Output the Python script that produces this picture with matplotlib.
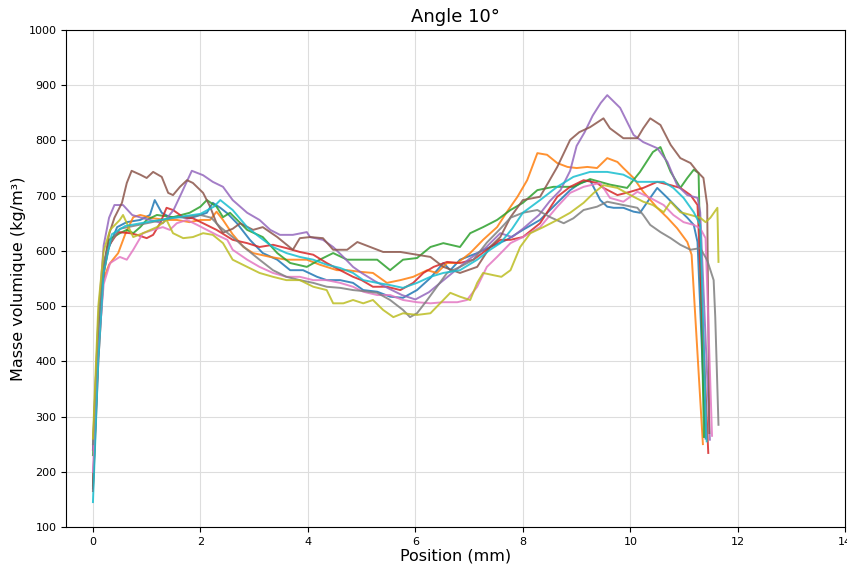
import matplotlib
matplotlib.use("Agg")
import matplotlib.pyplot as plt

# density profiles, angle 10 deg
pos_c0 = [0, 0.1, 0.2, 0.28, 0.45, 0.63, 0.88, 1.06, 1.15, 1.28, 1.43, 1.62, 1.8, 2.0, 2.12, 2.23, 2.37, 2.5, 2.68, 2.92, 3.16, 3.43, 3.67, 3.91, 4.17, 4.35, 4.6, 4.84, 5.03, 5.29, 5.53, 5.77, 6.03, 6.28, 6.52, 6.65, 6.83, 7.15, 7.39, 7.7, 8.0, 8.32, 8.64, 8.88, 9.07, 9.25, 9.44, 9.57, 9.69, 9.87, 10.06, 10.18, 10.37, 10.5, 10.69, 10.87, 11.06, 11.18, 11.25, 11.4]
dens_c0 = [170, 420, 560, 602, 643, 652, 656, 665, 692, 669, 661, 661, 659, 665, 669, 687, 678, 668, 650, 620, 596, 584, 565, 565, 553, 547, 547, 542, 529, 526, 517, 515, 529, 551, 578, 565, 584, 596, 607, 620, 638, 656, 687, 710, 723, 728, 692, 680, 678, 678, 671, 669, 696, 714, 696, 678, 660, 647, 616, 260]

pos_c1 = [0, 0.1, 0.2, 0.3, 0.37, 0.47, 0.6, 0.75, 0.88, 1.12, 1.37, 1.56, 1.8, 2.0, 2.18, 2.3, 2.42, 2.6, 2.8, 2.98, 3.3, 3.6, 3.98, 4.22, 4.54, 4.73, 4.98, 5.21, 5.47, 5.72, 5.96, 6.22, 6.4, 6.59, 6.78, 7.02, 7.26, 7.52, 7.7, 7.9, 8.08, 8.27, 8.45, 8.64, 8.83, 9.0, 9.2, 9.38, 9.57, 9.76, 9.87, 10.06, 10.24, 10.5, 10.69, 10.87, 11.06, 11.14, 11.35]
dens_c1 = [240, 450, 550, 575, 584, 596, 630, 661, 665, 659, 656, 656, 652, 656, 656, 671, 656, 630, 607, 596, 589, 584, 584, 575, 565, 565, 562, 560, 542, 547, 553, 565, 560, 578, 578, 596, 620, 643, 670, 698, 728, 777, 774, 759, 752, 750, 752, 750, 768, 761, 750, 732, 707, 678, 660, 641, 616, 593, 250]

pos_c2 = [0, 0.1, 0.2, 0.3, 0.5, 0.63, 0.75, 0.88, 1.0, 1.19, 1.49, 1.8, 2.0, 2.12, 2.3, 2.42, 2.55, 2.87, 3.16, 3.43, 3.67, 3.98, 4.22, 4.47, 4.73, 5.03, 5.29, 5.53, 5.77, 6.03, 6.28, 6.52, 6.83, 7.02, 7.26, 7.52, 7.77, 8.0, 8.27, 8.57, 8.94, 9.25, 9.62, 9.94, 10.18, 10.42, 10.56, 10.75, 10.93, 11.06, 11.18, 11.27, 11.37]
dens_c2 = [230, 440, 570, 620, 632, 638, 632, 643, 656, 665, 661, 669, 680, 692, 680, 661, 669, 638, 625, 596, 578, 571, 584, 596, 584, 584, 584, 565, 584, 587, 607, 614, 607, 632, 643, 656, 674, 687, 710, 716, 716, 730, 720, 714, 743, 779, 788, 743, 714, 732, 747, 741, 263]

pos_c3 = [0, 0.1, 0.2, 0.3, 0.47, 0.69, 0.82, 1.0, 1.12, 1.25, 1.37, 1.49, 1.68, 1.86, 2.05, 2.3, 2.6, 2.87, 3.1, 3.35, 3.6, 3.85, 4.1, 4.35, 4.6, 4.84, 5.0, 5.21, 5.47, 5.72, 5.96, 6.15, 6.34, 6.59, 6.83, 7.08, 7.33, 7.58, 7.77, 8.0, 8.32, 8.64, 8.88, 9.13, 9.38, 9.5, 9.76, 10.0, 10.24, 10.5, 10.75, 10.93, 11.12, 11.25, 11.45]
dens_c3 = [165, 400, 560, 610, 634, 632, 629, 623, 629, 650, 678, 674, 661, 659, 650, 638, 620, 614, 607, 611, 605, 598, 593, 578, 565, 553, 547, 535, 535, 529, 542, 560, 571, 580, 578, 584, 602, 620, 620, 625, 650, 698, 716, 728, 723, 714, 701, 707, 714, 725, 719, 714, 701, 683, 234]

pos_c4 = [0, 0.1, 0.2, 0.3, 0.4, 0.56, 0.73, 0.9, 1.1, 1.3, 1.5, 1.65, 1.84, 2.05, 2.23, 2.42, 2.6, 2.87, 3.1, 3.3, 3.48, 3.72, 3.98, 4.04, 4.28, 4.47, 4.66, 4.84, 5.0, 5.25, 5.5, 5.75, 6.0, 6.25, 6.5, 6.75, 7.0, 7.3, 7.58, 7.8, 8.0, 8.3, 8.5, 8.7, 8.88, 9.0, 9.15, 9.3, 9.45, 9.57, 9.81, 10.06, 10.24, 10.5, 10.69, 10.87, 11.06, 11.25, 11.3, 11.48]
dens_c4 = [240, 480, 610, 660, 683, 683, 665, 660, 655, 650, 674, 705, 745, 737, 725, 716, 692, 669, 656, 638, 629, 629, 634, 625, 620, 607, 589, 571, 560, 545, 532, 520, 512, 525, 545, 565, 585, 605, 632, 625, 640, 665, 690, 710, 745, 790, 815, 845, 868, 882, 859, 810, 797, 786, 761, 719, 701, 696, 670, 258]

pos_c5 = [0, 0.1, 0.2, 0.3, 0.4, 0.54, 0.63, 0.72, 0.88, 1.0, 1.12, 1.28, 1.4, 1.49, 1.62, 1.75, 1.86, 2.05, 2.18, 2.3, 2.42, 2.6, 2.74, 2.98, 3.16, 3.43, 3.72, 3.85, 4.04, 4.28, 4.47, 4.73, 4.92, 5.16, 5.4, 5.72, 6.03, 6.28, 6.52, 6.83, 7.15, 7.39, 7.58, 7.77, 8.0, 8.32, 8.64, 8.88, 9.05, 9.25, 9.5, 9.62, 9.87, 10.13, 10.24, 10.37, 10.56, 10.75, 10.93, 11.12, 11.25, 11.36, 11.43, 11.47]
dens_c5 = [175, 420, 570, 630, 660, 687, 723, 745, 738, 732, 743, 734, 705, 701, 716, 728, 723, 705, 680, 650, 633, 640, 650, 638, 643, 625, 602, 623, 625, 623, 602, 602, 616, 607, 598, 598, 593, 589, 571, 560, 571, 607, 625, 661, 692, 698, 752, 801, 815, 824, 840, 822, 804, 804, 822, 840, 828, 792, 768, 759, 743, 732, 683, 270]

pos_c6 = [0, 0.1, 0.2, 0.32, 0.5, 0.63, 0.75, 0.93, 1.12, 1.3, 1.43, 1.56, 1.75, 1.94, 2.12, 2.3, 2.5, 2.6, 2.87, 3.1, 3.35, 3.6, 3.85, 4.1, 4.35, 4.6, 4.84, 5.03, 5.29, 5.53, 5.77, 6.03, 6.28, 6.52, 6.78, 6.96, 7.15, 7.33, 7.52, 7.77, 8.0, 8.32, 8.64, 8.88, 9.13, 9.44, 9.62, 9.87, 10.13, 10.37, 10.62, 10.8, 10.99, 11.18, 11.3, 11.4, 11.52]
dens_c6 = [200, 420, 540, 578, 589, 584, 602, 632, 638, 643, 638, 650, 656, 647, 638, 629, 620, 602, 584, 571, 560, 553, 553, 547, 547, 542, 535, 526, 520, 520, 511, 507, 505, 507, 507, 511, 535, 571, 589, 614, 625, 643, 680, 705, 716, 723, 696, 689, 707, 696, 683, 665, 652, 647, 641, 623, 265]

pos_c7 = [0, 0.1, 0.2, 0.32, 0.5, 0.75, 1.0, 1.25, 1.5, 1.75, 2.0, 2.2, 2.37, 2.6, 2.87, 3.1, 3.35, 3.6, 3.85, 4.1, 4.35, 4.6, 4.84, 5.05, 5.29, 5.53, 5.77, 5.9, 6.03, 6.22, 6.4, 6.59, 6.83, 7.08, 7.33, 7.58, 7.77, 8.0, 8.27, 8.51, 8.76, 8.94, 9.13, 9.38, 9.57, 9.87, 10.13, 10.24, 10.37, 10.56, 10.75, 10.93, 11.12, 11.3, 11.43, 11.55, 11.58, 11.64]
dens_c7 = [250, 470, 580, 614, 640, 645, 650, 655, 660, 662, 665, 660, 643, 625, 602, 584, 565, 553, 547, 542, 535, 533, 529, 527, 524, 511, 493, 480, 487, 511, 535, 560, 571, 584, 615, 640, 660, 669, 674, 661, 650, 659, 674, 680, 689, 683, 678, 665, 647, 634, 623, 611, 602, 605, 583, 547, 480, 285]

pos_c8 = [0, 0.1, 0.2, 0.32, 0.5, 0.56, 0.75, 0.93, 1.19, 1.37, 1.49, 1.68, 1.86, 2.05, 2.23, 2.42, 2.6, 2.87, 3.1, 3.35, 3.6, 3.85, 4.1, 4.35, 4.47, 4.66, 4.84, 5.03, 5.21, 5.4, 5.59, 5.77, 6.03, 6.28, 6.46, 6.65, 6.83, 7.02, 7.15, 7.26, 7.45, 7.6, 7.77, 7.95, 8.14, 8.38, 8.64, 8.88, 9.13, 9.32, 9.5, 9.76, 10.0, 10.24, 10.42, 10.62, 10.75, 10.93, 11.12, 11.3, 11.4, 11.49, 11.62, 11.64]
dens_c8 = [260, 500, 600, 638, 656, 665, 625, 632, 643, 656, 632, 623, 625, 632, 629, 614, 584, 571, 560, 553, 547, 547, 535, 529, 505, 505, 511, 505, 511, 493, 480, 487, 484, 487, 505, 524, 517, 511, 542, 560, 556, 553, 565, 607, 632, 643, 656, 669, 687, 705, 719, 714, 701, 689, 683, 670, 689, 670, 665, 660, 652, 660, 678, 580]

pos_c9 = [0, 0.1, 0.2, 0.35, 0.6, 1.0, 1.5, 2.0, 2.25, 2.37, 2.6, 2.87, 3.1, 3.35, 3.6, 3.85, 4.1, 4.35, 4.6, 4.84, 5.03, 5.29, 5.53, 5.77, 6.03, 6.28, 6.52, 6.83, 7.15, 7.39, 7.58, 7.8, 8.0, 8.32, 8.64, 8.94, 9.25, 9.57, 9.87, 10.13, 10.37, 10.62, 10.8, 10.99, 11.18, 11.3, 11.42]
dens_c9 = [145, 400, 560, 630, 645, 652, 660, 667, 680, 692, 674, 643, 625, 607, 596, 589, 584, 575, 569, 560, 547, 542, 538, 533, 542, 553, 560, 565, 584, 602, 614, 640, 669, 692, 716, 734, 743, 743, 738, 725, 725, 725, 714, 696, 670, 647, 255]

profiles = [(pos_c0, dens_c0), (pos_c1, dens_c1), (pos_c2, dens_c2), (pos_c3, dens_c3),
            (pos_c4, dens_c4), (pos_c5, dens_c5), (pos_c6, dens_c6), (pos_c7, dens_c7),
            (pos_c8, dens_c8), (pos_c9, dens_c9)]

fig = plt.figure(figsize=(8.47, 5.66), dpi=100)
ax = fig.add_axes([0.078, 0.069, 0.92, 0.878])

for i, (x, y) in enumerate(profiles):
    ax.plot(x, y, color=f"C{i}", lw=1.4, alpha=0.85)

ax.set_xlim(-0.5, 14)
ax.set_ylim(100, 1000)
ax.set_xticks([0, 2, 4, 6, 8, 10, 12, 14])
ax.set_yticks(range(100, 1001, 100))
ax.tick_params(labelsize=8)
ax.grid(True, color="#dddddd", lw=0.8)
ax.set_axisbelow(True)

ax.set_title("Angle 10°", fontsize=13)
ax.set_xlabel("Position (mm)", fontsize=11.5, labelpad=1)
ax.set_ylabel("Masse volumique (kg/m³)", fontsize=11.5, labelpad=2)

fig.savefig("out.png", dpi=100)
